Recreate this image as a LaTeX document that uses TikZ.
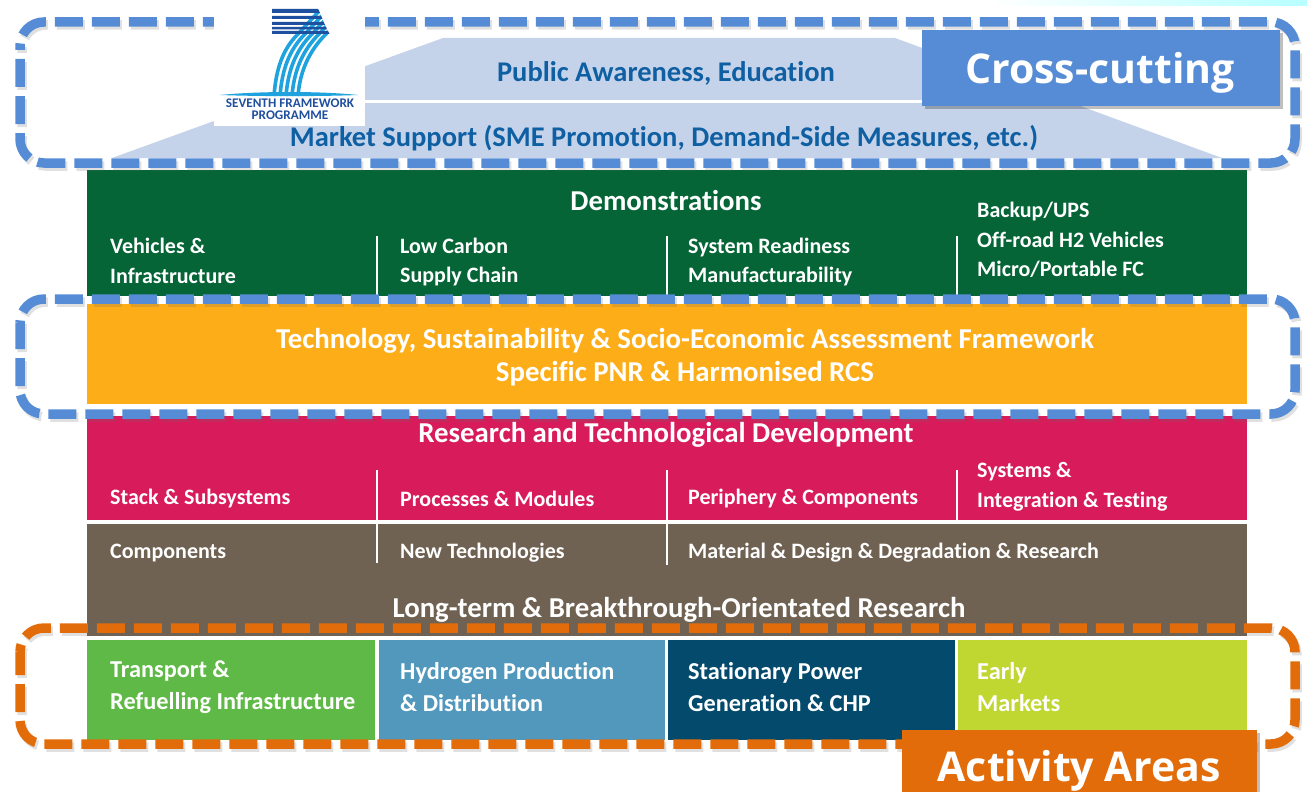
\documentclass[tikz,border=0pt]{standalone}
\usepackage{fontspec}
\setmainfont{Carlito}[Ligatures=NoCommon]
\newfontfamily\headfont{Open Sans}
\usetikzlibrary{calc}
\definecolor{paleblue}{HTML}{C5D3EA}
\definecolor{txtblue}{HTML}{0F5FA3}
\definecolor{crossblue}{HTML}{568CD5}
\definecolor{actorange}{HTML}{E36C0A}
\definecolor{cgreen}{HTML}{056537}
\definecolor{corange}{HTML}{FDAD18}
\definecolor{ccrimson}{HTML}{D81B5A}
\definecolor{cbrown}{HTML}{6F6253}
\definecolor{ctrans}{HTML}{5FB946}
\definecolor{chydro}{HTML}{5298BC}
\definecolor{cstat}{HTML}{034A6C}
\definecolor{cearly}{HTML}{BFD730}
\definecolor{logodark}{HTML}{1F4F9F}
\definecolor{logocyan}{HTML}{1FA3DE}
\tikzset{
  x=1pt,y=-1pt,
  lab/.style={anchor=west,inner sep=0,text=white,align=left,font=\fontsize{22}{29.5}\selectfont\bfseries},
  labbig/.style={anchor=west,inner sep=0,text=white,align=left,font=\fontsize{24.3}{32}\selectfont\bfseries},
  labc/.style={anchor=center,inner sep=0,text=white,align=center,font=\fontsize{28.8}{33}\selectfont\bfseries},
  toptxt/.style={anchor=center,inner sep=0,text=txtblue,font=\fontsize{28.5}{33}\selectfont\bfseries},
  sep/.style={draw=white,line width=2pt},
  dashbox/.style={line width=9.5pt,rounded corners=24pt,dash pattern=on 28pt off 9pt},
  shadowline/.style={draw=black!60,opacity=.2},
  tag/.style={inner sep=0,outer sep=0,text=white,font=\headfont\fontsize{41}{41}\selectfont\bfseries}
}
\begin{document}
\begin{tikzpicture}
\useasboundingbox (0,0) rectangle (1307,792);
\fill[white] (0,0) rectangle (1307,792);
% pale glow at top right
\shade[left color=white,right color=cyan!28] (990,0) rectangle (1307,6);
% pale pyramid
\fill[paleblue] (443,38) -- (895,38) -- (1222,158) -- (112,158) -- cycle;
\draw[white,line width=3pt] (262,101) -- (1060,101);
% layers
\fill[cgreen] (87,170) rectangle (1247,296);
\fill[corange] (87,304) rectangle (1247,404);
\fill[ccrimson] (87,416) rectangle (1247,520);
\fill[cbrown] (87,524) rectangle (1247,636);
\fill[ctrans] (87,640) rectangle (375,740);
\fill[chydro] (379,640) rectangle (665,740);
\fill[cstat] (668,640) rectangle (955,740);
\fill[cearly] (958,640) rectangle (1247,740);
% separators
\foreach \sx in {377,667,957} {
  \draw[sep] (\sx,236) -- (\sx,296);
  \draw[sep] (\sx,470) -- (\sx,520);
}
\draw[sep] (377,524) -- (377,563);
\draw[sep] (667,524) -- (667,565);
% top labels
\node[toptxt] (pub) at (666,73) {Public Awareness, Education};
\node[toptxt] (mkt) at (664,138) {Market Support (SME Promotion, Demand-Side Measures, etc.)};
% green
\node[labc] (demo) at (666,201) {Demonstrations};
\node[lab] (g1) at (110,261) {Vehicles \&\\Infrastructure};
\node[lab] (g2) at (400,262) {Low Carbon\\Supply Chain};
\node[lab] (g3) at (688,262) {System Readiness\\Manufacturability};
\node[lab] (g4) at (977,240) {Backup/UPS\\Off-road H2 Vehicles\\Micro/Portable FC};
% orange
\node[labc] (assess) at (685,357) {Technology, Sustainability \& Socio-Economic Assessment Framework\\Specific PNR \& Harmonised RCS};
% crimson
\node[labc] (rtd) at (666,435) {Research and Technological Development};
\node[lab] (r1) at (110,499) {Stack \& Subsystems};
\node[lab] (r2) at (400,499) {Processes \& Modules};
\node[lab] (r3) at (688,499) {Periphery \& Components};
\node[lab] (r4) at (977,487) {Systems \&\\Integration \& Testing};
% brown
\node[lab] (b1) at (110,553) {Components};
\node[lab] (b2) at (400,553) {New Technologies};
\node[lab] (b3) at (688,553) {Material \& Design \& Degradation \& Research};
\node[labc] (ltb) at (679,610) {Long-term \& Breakthrough-Orientated Research};
% bottom
\node[labbig] (a1) at (110,687) {Transport \&\\Refuelling Infrastructure};
\node[labbig] (a2) at (400,687) {Hydrogen Production\\\& Distribution};
\node[labbig] (a3) at (688,687) {Stationary Power\\Generation \& CHP};
\node[labbig] (a4) at (977,687) {Early\\Markets};
% dashed frames, shadows first
\foreach \ya/\yb/\col/\ph in {22/163/crossblue/24,299/414/crossblue/2,628/744/actorange/5} {
  \draw[dashbox,dash phase=\ph pt,shadowline] (22,\ya+3) rectangle (1297,\yb+3);
  \draw[dashbox,dash phase=\ph pt,draw=\col] (20,\ya) rectangle (1295,\yb);
}
% logo
\fill[white] (214,10) rectangle (365,126);
\begin{scope}
  \clip (272,9) -- (318,9) -- (329,34) -- (322,48) -- (300,96) -- (270,96) -- cycle;
  \foreach \i in {0,...,4} {
    \draw[logocyan,line width=3.6pt]
      ($(274,96)+(6*\i,0)$) .. controls ($(276,70)+(6*\i,0)$) and ($(282,50)+(7*\i,0)$) .. ($(298,34)+(7*\i,0)$) -- ($(322,8)+(7*\i,0)$);
  }
\end{scope}
\fill[logodark] (272,9) -- (318,9) -- (320,13) -- (272,13) -- cycle;
\fill[logodark] (272,16) -- (321,16) -- (322.5,19) -- (272,19) -- cycle;
\fill[logodark] (272,22) -- (323.5,22) -- (325,25) -- (272,25) -- cycle;
\fill[logodark] (272,27) -- (326,27) -- (327,29.5) -- (272,29.5) -- cycle;
\fill[logodark] (272,31) -- (328,31) -- (329.5,34) -- (272,34) -- cycle;
\fill[logocyan] (220,95) .. controls (260,91) and (320,91) .. (358,95) .. controls (320,96.5) and (260,96.5) .. (220,95) -- cycle;
\node[inner sep=0,text=logodark,align=center,font=\fontsize{13.2}{12.5}\selectfont\bfseries] (logotxt) at (290,109) {SEVENTH FRAMEWORK\\PROGRAMME};
% tags
\fill[black,opacity=.25] (925,33) rectangle (1283,109);
\fill[crossblue] (922,30) rectangle (1280,106);
\node[tag] (cross) at (1100,73) {Cross-cutting};
\fill[black,opacity=.25] (905,733) rectangle (1260,792);
\fill[actorange] (902,730) rectangle (1257,792);
\node[tag] (act) at (1079,771) {Activity Areas};
\end{tikzpicture}
\end{document}
